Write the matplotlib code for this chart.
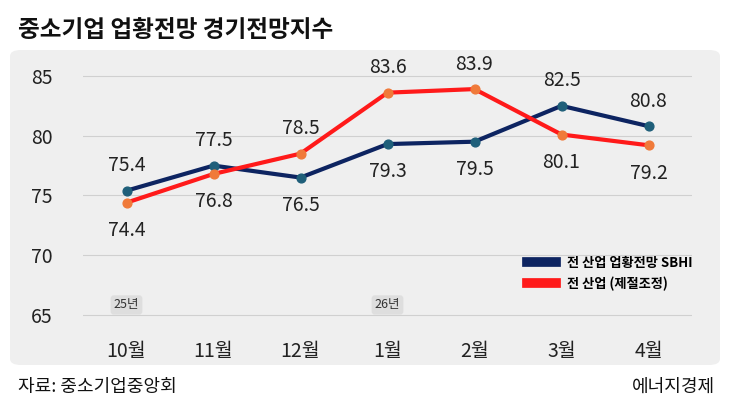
import matplotlib
matplotlib.use("Agg")
import matplotlib.pyplot as plt
from matplotlib.patches import FancyBboxPatch
from matplotlib.lines import Line2D

plt.rcParams['font.family'] = ['Noto Sans CJK KR', 'DejaVu Sans']

months = ['10월', '11월', '12월', '1월', '2월', '3월', '4월']
sbhi = [75.4, 77.5, 76.5, 79.3, 79.5, 82.5, 80.8]
seasonal = [74.4, 76.8, 78.5, 83.6, 83.9, 80.1, 79.2]
yticks = [65, 70, 75, 80, 85]
year_badges = {0: '25년', 3: '26년'}
sbhi_above = [True, True, False, False, False, True, True]

navy = '#0d2461'
red = '#ff1a1a'
orange = '#f07a3a'
teal = '#1f5f7a'

W, H = 730, 411
fig = plt.figure(figsize=(W/100, H/100), dpi=100)
fig.patch.set_facecolor('white')
bg = FancyBboxPatch((10/W, (H-365)/H), 710/W, 315/H, boxstyle="round,pad=0,rounding_size=0.015",
                    transform=fig.transFigure, facecolor='#efefef', edgecolor='none', zorder=-10)
fig.patches.append(bg)

ax = fig.add_axes([83/W, (H-327)/H, 609/W, 269/H])
ax.set_zorder(1)
ax.set_facecolor('none')
ax.set_xlim(-0.5, 6.5)
ax.set_ylim(64, 86.5)
for s in ax.spines.values():
    s.set_visible(False)
ax.set_yticks(yticks)
ax.grid(axis='y', color='#d0d0d0', lw=0.8)
ax.tick_params(length=0, labelsize=14, colors='#222222')
ax.set_xticks(range(len(months)))
ax.set_xticklabels(months, fontsize=14)
ax.tick_params(axis='x', pad=10)
ax.tick_params(axis='y', pad=22)

x = list(range(len(months)))
ax.plot(x, sbhi, color=navy, lw=3, zorder=3)
ax.scatter(x, sbhi, color=teal, s=40, zorder=4)
ax.plot(x, seasonal, color=red, lw=3, zorder=3)
ax.scatter(x, seasonal, color=orange, s=40, zorder=4)

for i in x:
    up = sbhi_above[i]
    ax.annotate(f'{sbhi[i]:.1f}', (i, sbhi[i]), xytext=(0, 18 if up else -20), textcoords='offset points',
                ha='center', va='center', fontsize=14, color='#222222')
    ax.annotate(f'{seasonal[i]:.1f}', (i, seasonal[i]), xytext=(0, -20 if up else 18), textcoords='offset points',
                ha='center', va='center', fontsize=14, color='#222222')

for i, t in year_badges.items():
    ax.text(i, 65.3, t, ha='center', va='bottom', fontsize=9, color='#333333',
            bbox=dict(boxstyle='round,pad=0.25', facecolor='#dedede', edgecolor='none'))

handles = [Line2D([0], [0], color=navy, lw=7), Line2D([0], [0], color=red, lw=7)]
leg = ax.legend(handles, ['전 산업 업황전망 SBHI', '전 산업 (제절조정)'], loc='lower right',
                bbox_to_anchor=(1.02, 0.09), frameon=False, fontsize=9.5, handlelength=2.2)
for t in leg.get_texts():
    t.set_fontweight('bold')

fig.text(18/W, 1-30/H, '중소기업 업황전망 경기전망지수', fontsize=17, fontweight='bold', va='center', color='#111111')
fig.text(18/W, 1-387/H, '자료: 중소기업중앙회', fontsize=13, va='center', color='#111111')
fig.text(715/W, 1-387/H, '에너지경제', fontsize=13, va='center', ha='right', color='#111111')

fig.savefig('out.png', dpi=100)
